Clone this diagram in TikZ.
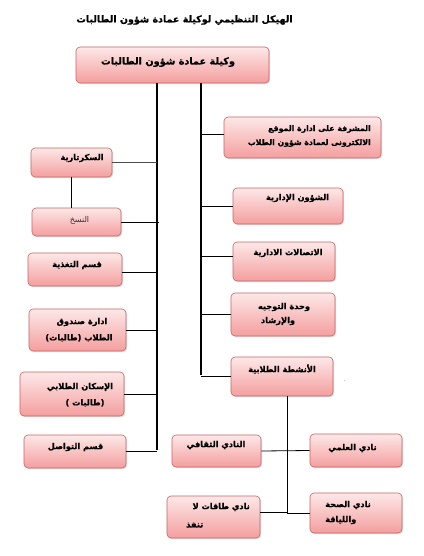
\documentclass[tikz,border=0pt]{standalone}
\usepackage{fontspec}
\newfontfamily\arabicfont[Script=Arabic, BoldFeatures={FakeBold=0.8}]{DejaVu Sans}
\TeXXeTstate=1
\usetikzlibrary{shadows}
\definecolor{boxline}{RGB}{200,100,100}
\definecolor{boxtop}{RGB}{253,232,232}
\definecolor{boxbot}{RGB}{244,158,158}
\newcommand{\artxt}[1]{\beginR #1\endR}
\tikzset{
 box/.style={draw=boxline, line width=0.6pt, rounded corners=4pt, top color=boxtop, bottom color=boxbot,
   drop shadow={shadow xshift=1.2pt, shadow yshift=-1.2pt, opacity=0.25}, inner sep=0pt},
 lbl/.style={font=\arabicfont\bfseries\fontsize{8.2}{10}\selectfont, inner sep=0pt},
 lblsmall/.style={font=\arabicfont\bfseries\fontsize{7.8}{10}\selectfont, inner sep=0pt},
 lblthin/.style={font=\arabicfont\fontsize{8}{10}\selectfont, inner sep=0pt, text=black!80},
 conn/.style={line width=0.8pt},
}
\begin{document}
\begin{tikzpicture}[x=1pt,y=-1pt]
\fill[white] (0,0) rectangle (423,556);
\useasboundingbox (0,0) rectangle (423,556);
% title
\node[lbl, font=\arabicfont\bfseries\fontsize{9.5}{11}\selectfont] (title) at (184.5,20) {\artxt{الهيكل التنظيمي لوكيلة عمادة  شؤون الطالبات}};
% boxes
\node[box, minimum width=193pt, minimum height=36pt] (main) at (172.5,65) {};
\node[box, minimum width=81pt, minimum height=29pt] (sec) at (71.5,162.5) {};
\node[box, minimum width=89pt, minimum height=28pt] (nas) at (76.5,222) {};
\node[box, minimum width=94pt, minimum height=33pt] (food) at (75,269.5) {};
\node[box, minimum width=97pt, minimum height=42pt] (fund) at (77.5,330) {};
\node[box, minimum width=104pt, minimum height=44pt] (hous) at (72,394) {};
\node[box, minimum width=102pt, minimum height=33pt] (comm) at (75,451.5) {};
\node[box, minimum width=157pt, minimum height=41pt] (r1) at (302.5,137.5) {};
\node[box, minimum width=110pt, minimum height=36pt] (r2) at (288,206) {};
\node[box, minimum width=102pt, minimum height=39pt] (r3) at (284,261.5) {};
\node[box, minimum width=104pt, minimum height=43pt] (r4) at (283,314.5) {};
\node[box, minimum width=102pt, minimum height=39pt] (r5) at (282,376.5) {};
\node[box, minimum width=89pt, minimum height=32pt] (b1) at (216.5,451) {};
\node[box, minimum width=92pt, minimum height=33pt] (b2) at (356,450.5) {};
\node[box, minimum width=93pt, minimum height=42pt] (b3) at (213.5,517) {};
\node[box, minimum width=92pt, minimum height=40pt] (b4) at (356,513) {};
% texts
\node[lbl, font=\arabicfont\bfseries\fontsize{9.7}{11}\selectfont] (tmain) at (168,62) {\artxt{وكيلة عمادة شؤون الطالبات}};
\node[lblsmall, anchor=east] (tr1a) at (371,129) {\artxt{المشرفة  على ادارة  الموقع}};
\node[lblsmall, anchor=east] (tr1b) at (371,143) {\artxt{الالكترونى لعمادة شؤون الطلاب}};
\node[lbl] (tr2) at (297.5,198) {\artxt{الشؤون الإدارية}};
\node[lbl] (tr3) at (288,253) {\artxt{الاتصالات الادارية}};
\node[lbl] (tr4a) at (284,307) {\artxt{وحدة التوجيه}};
\node[lbl] (tr4b) at (278,321) {\artxt{والإرشاد}};
\node[lbl] (tr5) at (282,369) {\artxt{الأنشطة الطلابية}};
\node[lbl] (tsec) at (82,158) {\artxt{السكرتارية}};
\node[lblthin] (tnas) at (79.5,220) {\artxt{النسخ}};
\node[lbl] (tfood) at (77,265) {\artxt{قسم التغذية}};
\node[lbl] (tfunda) at (82,322) {\artxt{ادارة صندوق}};
\node[lbl] (tfundb) at (79,338) {\artxt{الطلاب (طالبات)}};
\node[lbl] (thousa) at (80,387) {\artxt{الإسكان الطلابي}};
\node[lbl] (thousb) at (85,403) {\artxt{(طالبات )}};
\node[lbl] (tcomm) at (75.5,447) {\artxt{قسم  التواصل}};
\node[lbl] (tb1) at (216,445) {\artxt{النادي الثقافي}};
\node[lbl] (tb2) at (352.5,448) {\artxt{نادي العلمي}};
\node[lbl, anchor=east] (tb3a) at (250,507) {\artxt{نادي طاقات لا}};
\node[lbl, anchor=west] (tb3b) at (186,525) {\artxt{تنفذ}};
\node[lbl, anchor=west] (tb4a) at (325,505) {\artxt{نادي الصحة}};
\node[lbl, anchor=west] (tb4b) at (325,520) {\artxt{واللياقة}};
\node[inner sep=0pt, font=\fontsize{6}{6}\selectfont] (dot) at (345,381) {.};
% spines
\coordinate (lsb) at (157,450);
\coordinate (rsb) at (201,375);
\coordinate (bvb) at (287,513);
\draw[line width=1.4pt] (main.south -| lsb) -- (lsb);
\draw[line width=2.6pt] (main.south -| rsb) -- (rsb);
\draw[conn, black!70] (sec.east) -- (sec.east -| lsb);
\draw[conn] (sec.south) -- (nas.north -| sec.south);
\draw[conn] (nas.east) -- ([xshift=2pt]nas.east -| lsb);
\draw[conn] ([yshift=-3pt]food.east) -- ([yshift=-3pt]food.east -| lsb);
\draw[conn] (fund.east) -- (fund.east -| lsb);
\draw[conn] (hous.east) -- (hous.east -| lsb);
\draw[conn] (comm.east) -- (comm.east -| lsb);
\draw[conn] ([yshift=3.5pt]r1.west) -- ([yshift=3.5pt]r1.west -| rsb);
\draw[conn] (r2.west) -- (r2.west -| rsb);
\draw[conn] ([yshift=5.5pt]r3.west) -- ([yshift=5.5pt]r3.west -| rsb);
\draw[conn] (r4.west) -- (r4.west -| rsb);
\draw[conn] (r5.west) -- (r5.west -| rsb);
\draw[conn] (r5.south -| bvb) -- (bvb);
\draw[conn] (b1.east) -- (b2.west);
\draw[conn] ([yshift=5pt]b3.east) -- ([yshift=5pt]b3.east -| bvb);
\draw[conn] (b4.west) -- (b4.west -| bvb);
\end{tikzpicture}
\end{document}
